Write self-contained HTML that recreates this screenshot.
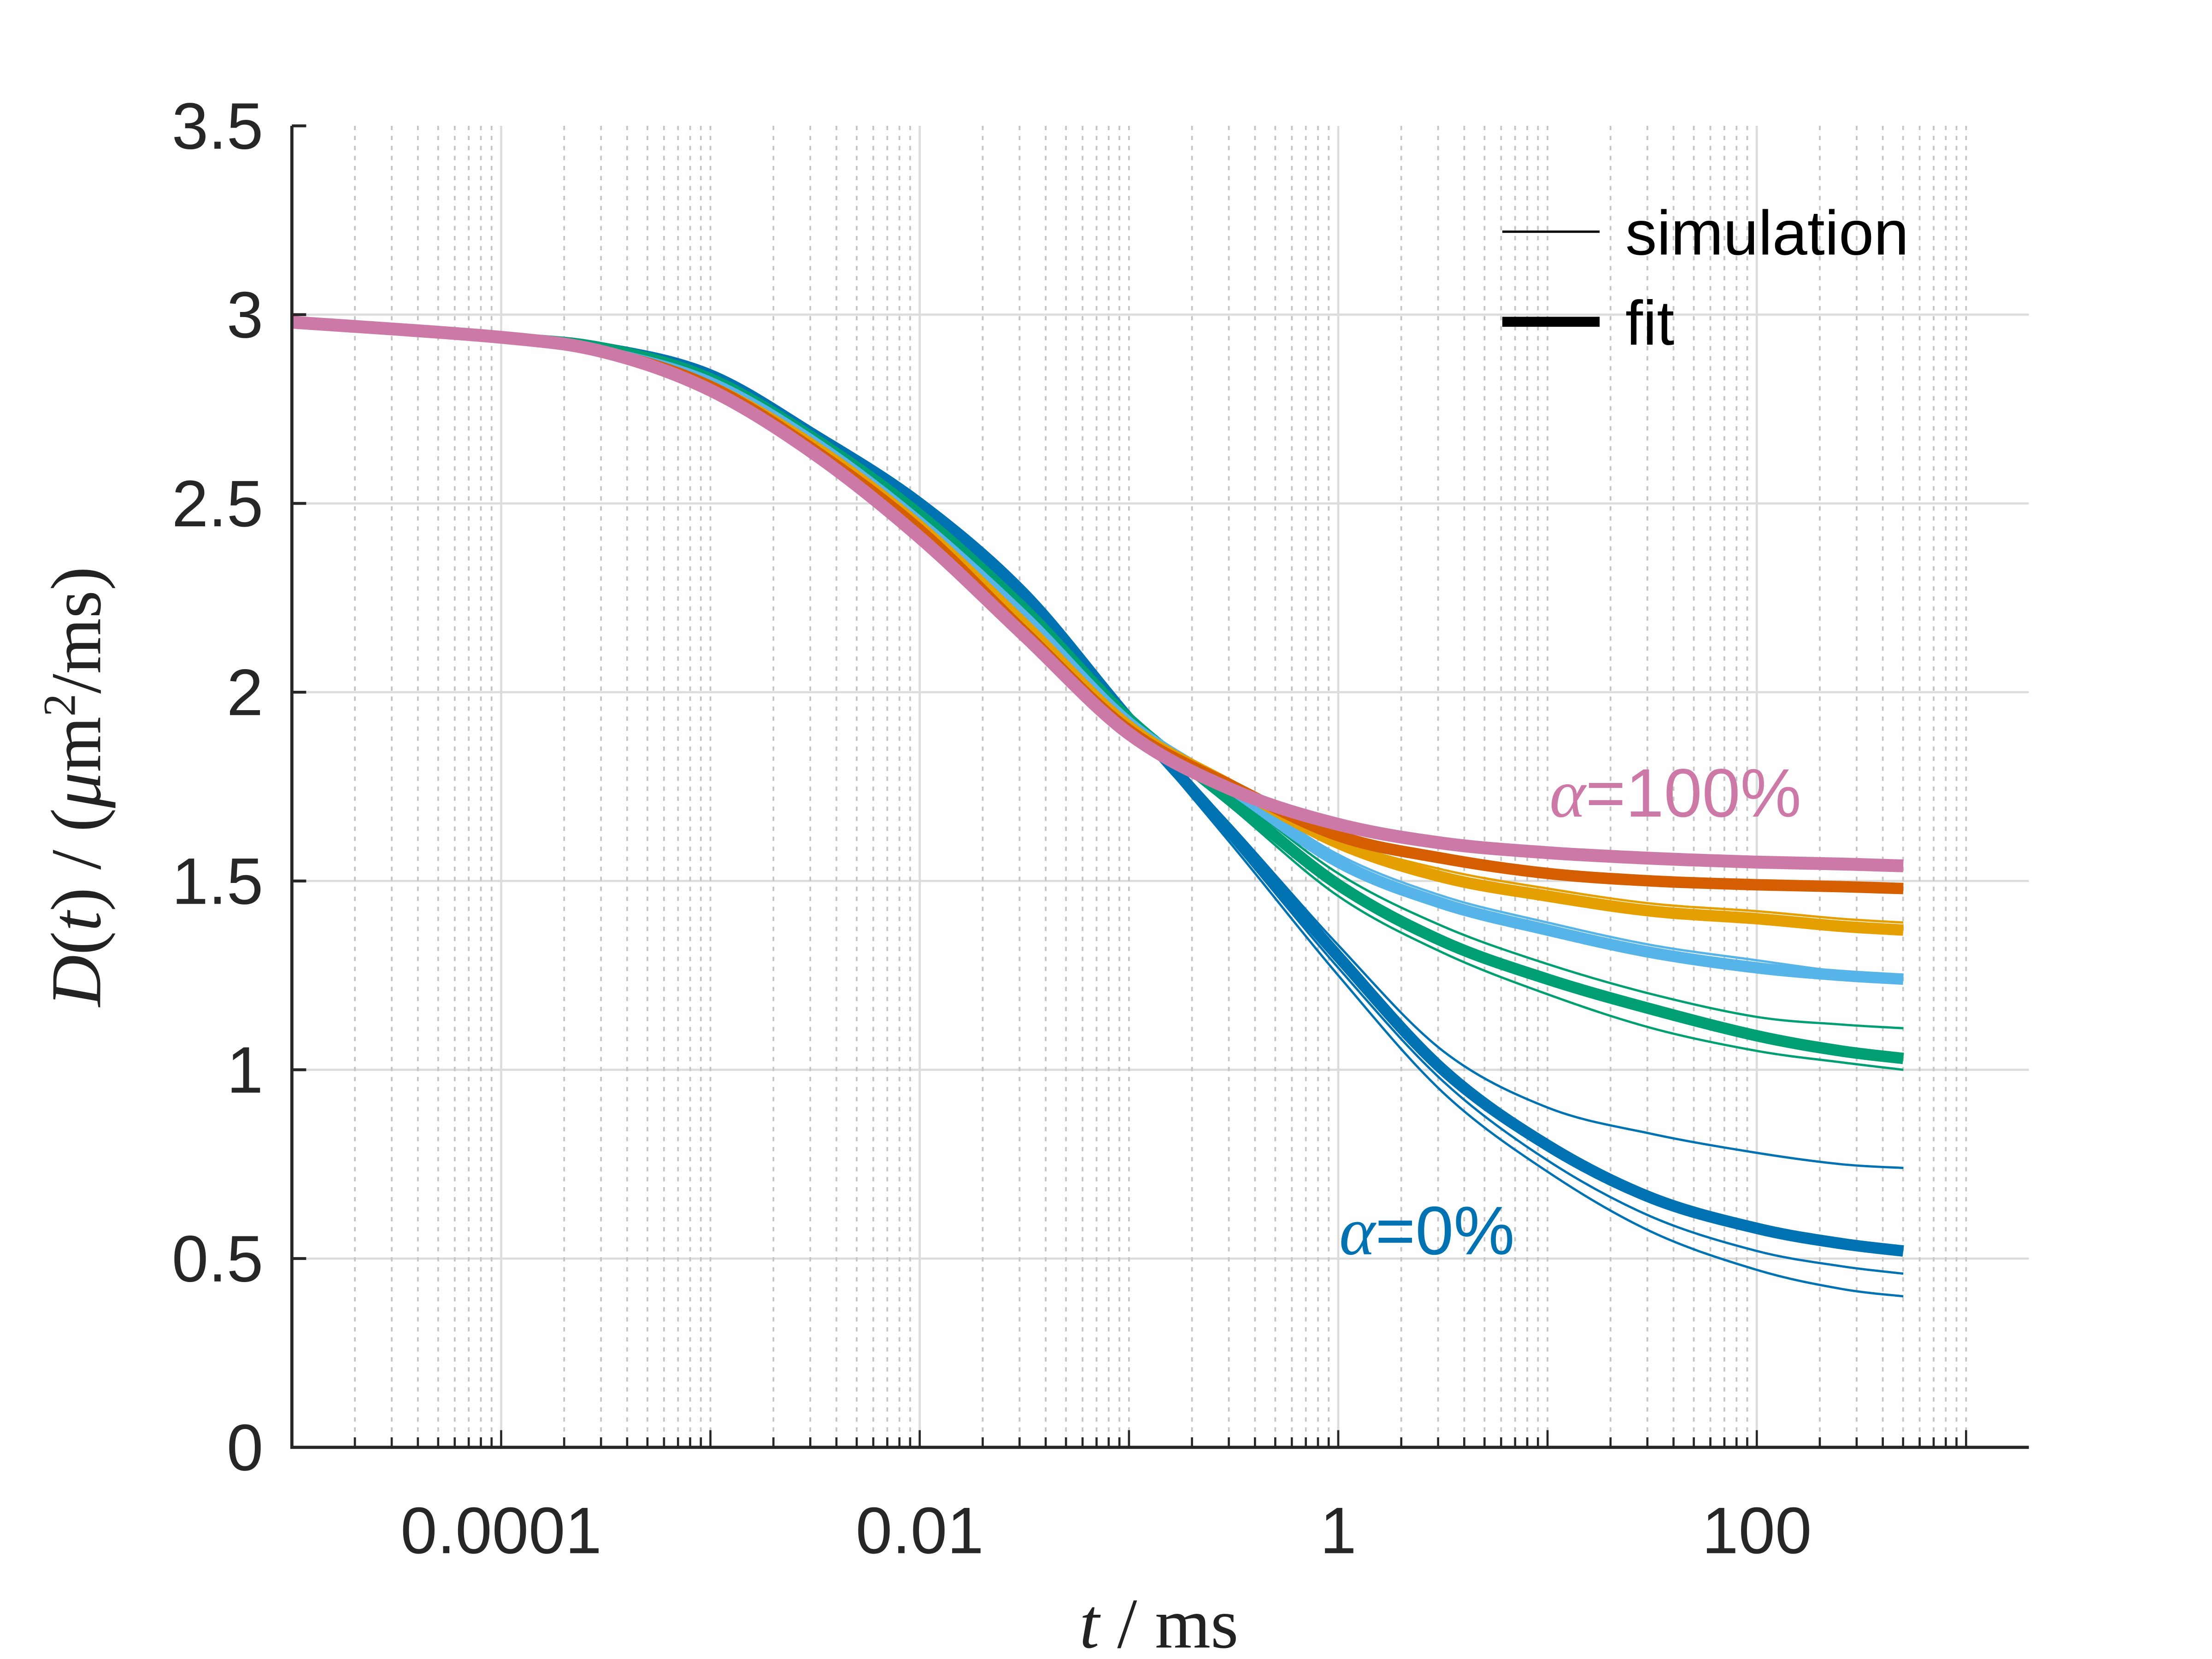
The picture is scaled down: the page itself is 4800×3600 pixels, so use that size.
<!DOCTYPE html>
<html><head><meta charset="utf-8"><style>
html,body{margin:0;padding:0;background:#fff;}
svg{display:block;}
</style></head><body>
<svg id="chart" xmlns="http://www.w3.org/2000/svg" width="4800" height="3600" viewBox="0 0 1546 1160" preserveAspectRatio="none">
<rect width="1546" height="1160" fill="#fff"/>
<g id="grid"></g>
<g id="series"></g>
<g id="axes"></g>
<g>
<line x1="1050" y1="162" x2="1118" y2="162" stroke="#000" stroke-width="1.6"/>
<text x="1136" y="178" font-family="Liberation Sans, sans-serif" font-size="44" fill="#000">simulation</text>
<line x1="1050" y1="225" x2="1118" y2="225" stroke="#000" stroke-width="7"/>
<text x="1136" y="241" font-family="Liberation Sans, sans-serif" font-size="44" fill="#000">fit</text>
</g>
<text x="1083" y="571" font-size="48" fill="#CC79A7" font-family="Liberation Sans, sans-serif"><tspan font-family="Liberation Serif, serif" font-style="italic">α</tspan>=100%</text>
<text x="936" y="877" font-size="48" fill="#0072B2" font-family="Liberation Sans, sans-serif"><tspan font-family="Liberation Serif, serif" font-style="italic">α</tspan>=0%</text>
<text x="810" y="1152" text-anchor="middle" font-family="Liberation Serif, serif" font-size="50" fill="#222"><tspan font-style="italic">t</tspan> / ms</text>
<text transform="translate(70,550) rotate(-90)" text-anchor="middle" font-family="Liberation Serif, serif" font-size="50" fill="#222"><tspan font-style="italic">D</tspan>(<tspan font-style="italic">t</tspan>) / (<tspan font-style="italic">μ</tspan>m<tspan baseline-shift="super" font-size="32">2</tspan>/ms)</text>
</svg>
<script>
const logT = [-5,-4,-3.5,-3,-2.5,-2,-1.5,-1,-0.5,0,0.5,1,1.5,2,2.4,2.7];
const fitPink   = [2.98,2.94,2.90,2.80,2.63,2.41,2.15,1.89,1.74,1.65,1.60,1.575,1.56,1.55,1.545,1.54];
const fitVerm   = [2.98,2.94,2.90,2.81,2.64,2.43,2.16,1.90,1.75,1.62,1.56,1.52,1.50,1.49,1.485,1.48];
const fitOrange = [2.98,2.94,2.90,2.81,2.65,2.44,2.18,1.91,1.75,1.60,1.51,1.46,1.42,1.40,1.38,1.37];
const fitSky    = [2.98,2.94,2.90,2.82,2.66,2.45,2.20,1.92,1.74,1.55,1.44,1.37,1.31,1.27,1.25,1.24];
const fitGreen  = [2.98,2.94,2.91,2.83,2.67,2.47,2.22,1.93,1.71,1.49,1.34,1.24,1.16,1.09,1.05,1.03];
const fitBlue   = [2.98,2.94,2.91,2.84,2.68,2.50,2.26,1.93,1.62,1.30,1.00,0.80,0.66,0.58,0.54,0.52];
const simBlueA  = [2.98,2.94,2.91,2.85,2.69,2.51,2.27,1.94,1.64,1.33,1.05,0.90,0.83,0.78,0.75,0.74];
const simBlueB  = [2.98,2.94,2.91,2.84,2.68,2.49,2.25,1.92,1.60,1.27,0.97,0.76,0.61,0.52,0.48,0.46];
const simBlueC  = [2.98,2.94,2.91,2.84,2.68,2.49,2.25,1.92,1.59,1.25,0.94,0.73,0.57,0.47,0.42,0.40];
const simGreenA = [2.98,2.94,2.91,2.83,2.67,2.47,2.23,1.94,1.73,1.52,1.38,1.28,1.20,1.14,1.12,1.11];
const simGreenB = [2.98,2.94,2.91,2.83,2.67,2.46,2.21,1.92,1.69,1.46,1.31,1.20,1.11,1.05,1.02,1.00];
const simSky    = [2.98,2.94,2.90,2.82,2.66,2.45,2.20,1.92,1.75,1.57,1.46,1.39,1.33,1.29,1.26,1.25];
const simOrange = [2.98,2.94,2.90,2.81,2.65,2.44,2.18,1.91,1.76,1.61,1.53,1.48,1.44,1.42,1.40,1.39];
const yTicks = [0,0.5,1,1.5,2,2.5,3,3.5];
const yTickLabels = ['0','0.5','1','1.5','2','2.5','3','3.5'];
const xLabelDecades = [-4,-2,0,2];
const xLabelTexts = ['0.0001','0.01','1','100'];

const L=204,R=1418,T=88,B=1012, LX0=-5, LX1=3.3, Y0=0, Y1=3.5;
const sx = lt => L + (lt-LX0)/(LX1-LX0)*(R-L);
const sy = v => B - (v-Y0)/(Y1-Y0)*(B-T);
const NS='http://www.w3.org/2000/svg';
function mk(tag, parent, attrs){const e=document.createElementNS(NS,tag);for(const k in attrs)e.setAttribute(k,attrs[k]);parent.appendChild(e);return e;}

const grid=document.getElementById('grid'), axes=document.getElementById('axes'), series=document.getElementById('series');
yTicks.forEach((v,i)=>{
  if(v>0 && v<3.5){const g=mk('line',grid,{x1:L,x2:R,y1:sy(v),y2:sy(v),stroke:'#dcdcdc','stroke-width':1.5});
  
  }
  const t=mk('line',axes,{x1:L,x2:L+10,y1:sy(v),y2:sy(v),stroke:'#262626','stroke-width':2});
  
  
  const lb=mk('text',axes,{x:L-20,y:sy(v)+16,'text-anchor':'end','font-family':'Liberation Sans, sans-serif','font-size':46,fill:'#262626'});
  lb.textContent=yTickLabels[i];
  
  
});
for(let d=-5; d<=3; d++){
  for(let m=1;m<=9;m++){
    const lt=d+Math.log10(m);
    if(lt<LX0||lt>LX1) continue;
    const x=sx(lt);
    const major = (m===1 && xLabelDecades.includes(d));
    const g=mk('line',grid,{x1:x,x2:x,y1:T,y2:B,stroke:major?'#dcdcdc':'#c4c4c4','stroke-width':major?1.5:1.2});
    if(!major) g.setAttribute('stroke-dasharray','3,4');
    
    
    const tk=mk('line',axes,{x1:x,x2:x,y1:B,y2:B-(m===1?12:7),stroke:'#262626','stroke-width':1.5});
    
    
  }
}
xLabelDecades.forEach((d,i)=>{
  const lb=mk('text',axes,{x:sx(d),y:1086,'text-anchor':'middle','font-family':'Liberation Sans, sans-serif','font-size':46,fill:'#262626'});
  lb.textContent=xLabelTexts[i];
  
  
});
const frame=mk('path',axes,{d:`M${L},${T} L${L},${B} L${R},${B}`,fill:'none',stroke:'#262626','stroke-width':2.2});



function pathFor(vals){
  const p=logT.map((lt,i)=>[sx(lt),sy(vals[i])]);
  let d=`M${p[0][0]},${p[0][1]}`;
  for(let i=0;i<p.length-1;i++){
    const p0=p[Math.max(0,i-1)],p1=p[i],p2=p[i+1],p3=p[Math.min(p.length-1,i+2)];
    const c1=[p1[0]+(p2[0]-p0[0])/6,p1[1]+(p2[1]-p0[1])/6];
    const c2=[p2[0]-(p3[0]-p1[0])/6,p2[1]-(p3[1]-p1[1])/6];
    d+=` C${c1[0]},${c1[1]} ${c2[0]},${c2[1]} ${p2[0]},${p2[1]}`;
  }
  return d;
}
function draw(vals,color,w,name){
  const e=mk('path',series,{d:pathFor(vals),fill:'none',stroke:color,'stroke-width':w,'stroke-linecap':'butt','stroke-linejoin':'round'});
  
  
}
draw(simBlueA,'#0072B2',1.6,'sim-blue-1');
draw(simBlueB,'#0072B2',1.6,'sim-blue-2');
draw(simBlueC,'#0072B2',1.6,'sim-blue-3');
draw(fitBlue,'#0072B2',8,'fit-blue');
draw(simGreenA,'#009E73',1.6,'sim-green-1');
draw(simGreenB,'#009E73',1.6,'sim-green-2');
draw(fitGreen,'#009E73',8,'fit-green');
draw(simSky,'#56B4E9',1.6,'sim-sky');
draw(fitSky,'#56B4E9',8,'fit-sky');
draw(simOrange,'#E69F00',1.6,'sim-orange');
draw(fitOrange,'#E69F00',8,'fit-orange');
draw(fitVerm,'#D55E00',8,'fit-vermillion');
draw(fitPink,'#CC79A7',9,'fit-pink');
</script>
</body></html>
